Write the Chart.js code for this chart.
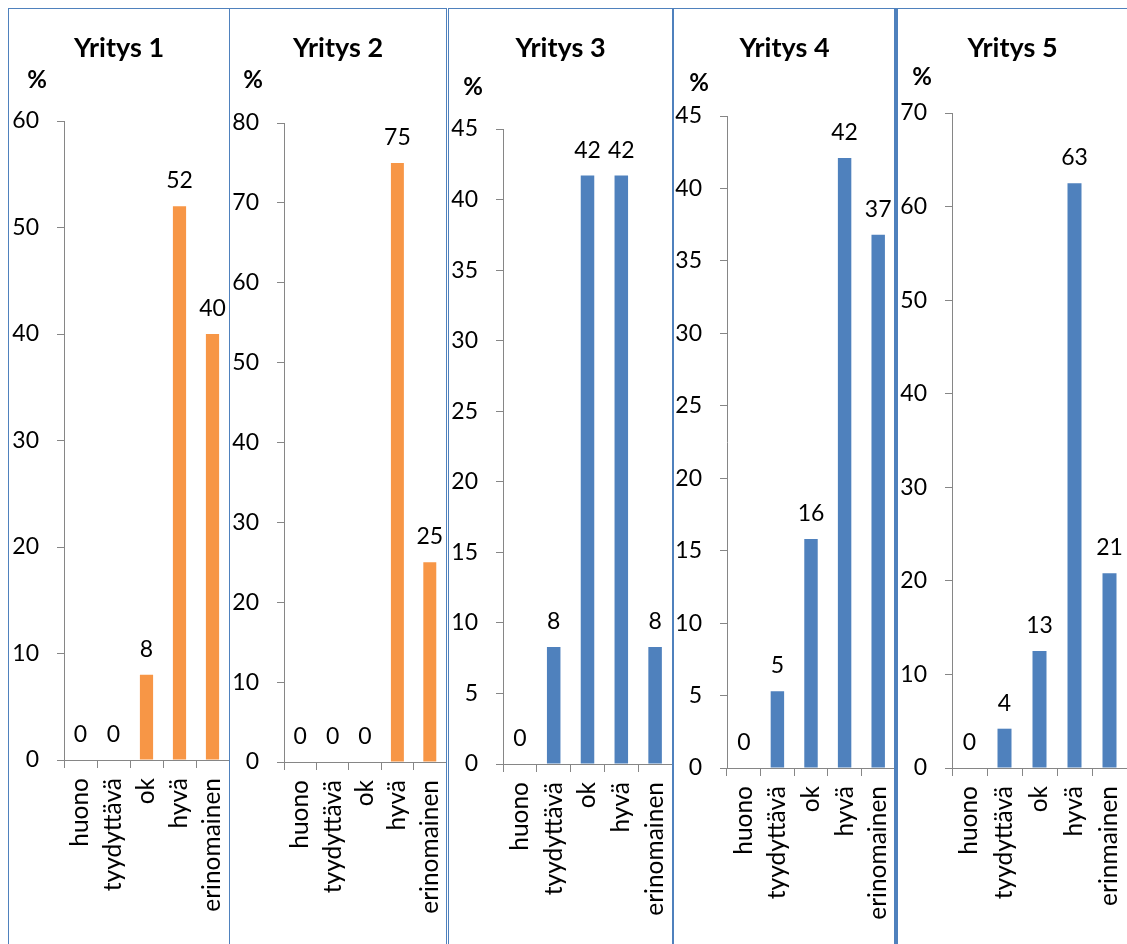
<!DOCTYPE html>
<html lang="fi">
<head>
<meta charset="utf-8">
<title>Yritykset</title>
<script src="https://cdn.jsdelivr.net/npm/chart.js"></script>
<style>
  html, body { margin: 0; padding: 0; background: #fff; }
  body { position: relative; width: 1127px; height: 944px; overflow: hidden; }
  .panel { position: absolute; top: 0; }
  .frame {
    position: absolute; top: 8px; height: 1000px;
    border: 1px solid #4f81bd; border-bottom: none;
    box-sizing: border-box; pointer-events: none;
  }
</style>
</head>
<body>
<script>
// arviot yrityksittäin, % vastaajista
const categories = ['huono', 'tyydyttävä', 'ok', 'hyvä', 'erinomainen'];
const categories5 = ['huono', 'tyydyttävä', 'ok', 'hyvä', 'erinmainen'];
const companies = ['Yritys 1', 'Yritys 2', 'Yritys 3', 'Yritys 4', 'Yritys 5'];

const yritys1 = [0, 0, 8, 52, 40];
const yritys2 = [0, 0, 0, 75, 25];
const yritys3 = [0, 8.3, 41.7, 41.7, 8.3];
const yritys4 = [0, 5.3, 15.8, 42.1, 36.8];
const yritys5 = [0, 4.2, 12.5, 62.5, 20.8];

const axisMax = [60, 80, 45, 45, 70];
const axisStep = [10, 10, 5, 5, 10];

const ORANGE = '#f79646';
const BLUE = '#4f81bd';
const AXIS = '#868686';
const H = 944;

// sijoittelu: kehykset ja kaavioalueet sivun koordinaateissa
const frames = [
  { left: 8, width: 222 },
  { left: 229, width: 218 },
  { left: 448, width: 225 },
  { left: 673, width: 222 },
  { left: 895, width: 260, thick: true }
];
const layout = [
  { x0: 9, x1: 229, axisX: 64, top: 121, zero: 760, pctX: 37, pctY: 80 },
  { x0: 230, x1: 446, axisX: 284, top: 123, zero: 762, pctX: 253, pctY: 80 },
  { x0: 449, x1: 672, axisX: 503, top: 129, zero: 764, pctX: 473, pctY: 87 },
  { x0: 674, x1: 895, axisX: 727, top: 116, zero: 768, pctX: 699, pctY: 83 },
  { x0: 898, x1: 1127, axisX: 952, top: 113, zero: 768, pctX: 922, pctY: 77 }
];

const series = [yritys1, yritys2, yritys3, yritys4, yritys5];
const colors = [ORANGE, ORANGE, BLUE, BLUE, BLUE];
const labelSets = [categories, categories, categories, categories, categories5];

// "%" y-akselin yläpuolelle
const percentSign = {
  id: 'percentSign',
  afterDraw(chart, args, opts) {
    const ctx = chart.ctx;
    ctx.save();
    ctx.font = 'bold 24px Lato';
    ctx.fillStyle = '#000';
    ctx.textAlign = 'center';
    ctx.textBaseline = 'middle';
    ctx.fillText('%', opts.x, opts.y);
    ctx.restore();
  }
};

// arvot pylväiden päälle
const valueLabels = {
  id: 'valueLabels',
  afterDatasetsDraw(chart) {
    const ctx = chart.ctx;
    const values = chart.data.datasets[0].data;
    ctx.save();
    ctx.font = '23px Lato';
    ctx.fillStyle = '#000';
    ctx.textAlign = 'center';
    ctx.textBaseline = 'alphabetic';
    chart.getDatasetMeta(0).data.forEach((bar, i) => {
      ctx.fillText(String(Math.round(values[i])), bar.x, bar.y - 18);
    });
    ctx.restore();
  }
};

frames.forEach(f => {
  const d = document.createElement('div');
  d.className = 'frame';
  d.style.left = f.left + 'px';
  d.style.width = f.width + 'px';
  if (f.thick) d.style.borderLeftWidth = '3px';
  document.body.appendChild(d);
});

layout.forEach((g, i) => {
  const wrap = document.createElement('div');
  wrap.className = 'panel';
  wrap.style.left = g.x0 + 'px';
  const canvas = document.createElement('canvas');
  canvas.width = g.x1 - g.x0;
  canvas.height = H;
  wrap.appendChild(canvas);
  document.body.insertBefore(wrap, document.body.firstChild);

  new Chart(canvas, {
    type: 'bar',
    data: {
      labels: labelSets[i],
      datasets: [{
        data: series[i],
        backgroundColor: colors[i],
        borderWidth: 0,
        categoryPercentage: 1,
        barPercentage: 0.4
      }]
    },
    options: {
      responsive: false,
      animation: false,
      devicePixelRatio: 1,
      layout: { padding: 0 },
      plugins: {
        legend: { display: false },
        tooltip: { enabled: false },
        title: {
          display: true,
          text: companies[i],
          color: '#000',
          font: { family: 'Lato', size: 27, weight: 'bold' },
          padding: { top: 31.8, bottom: g.top - 64.2 }
        },
        percentSign: { x: g.pctX - g.x0, y: g.pctY }
      },
      scales: {
        x: {
          grid: { drawOnChartArea: false, tickLength: 8, color: AXIS },
          border: { color: AXIS },
          ticks: {
            color: '#000',
            font: { family: 'Lato', size: 24.5 },
            minRotation: 90,
            maxRotation: 90,
            autoSkip: false,
            padding: 10
          },
          afterFit(scale) {
            scale.height = H - g.zero;
            scale.paddingLeft = 0;
            scale.paddingRight = 0;
          }
        },
        y: {
          min: 0,
          max: axisMax[i],
          grid: { drawOnChartArea: false, tickLength: 7, color: AXIS },
          border: { color: AXIS },
          ticks: {
            stepSize: axisStep[i],
            color: '#000',
            font: { family: 'Lato', size: 23 },
            padding: 18
          },
          afterFit(scale) {
            scale.width = g.axisX - g.x0;
            scale.paddingTop = 0;
            scale.paddingBottom = 0;
          }
        }
      }
    },
    plugins: [percentSign, valueLabels]
  });
});
</script>
</body>
</html>
